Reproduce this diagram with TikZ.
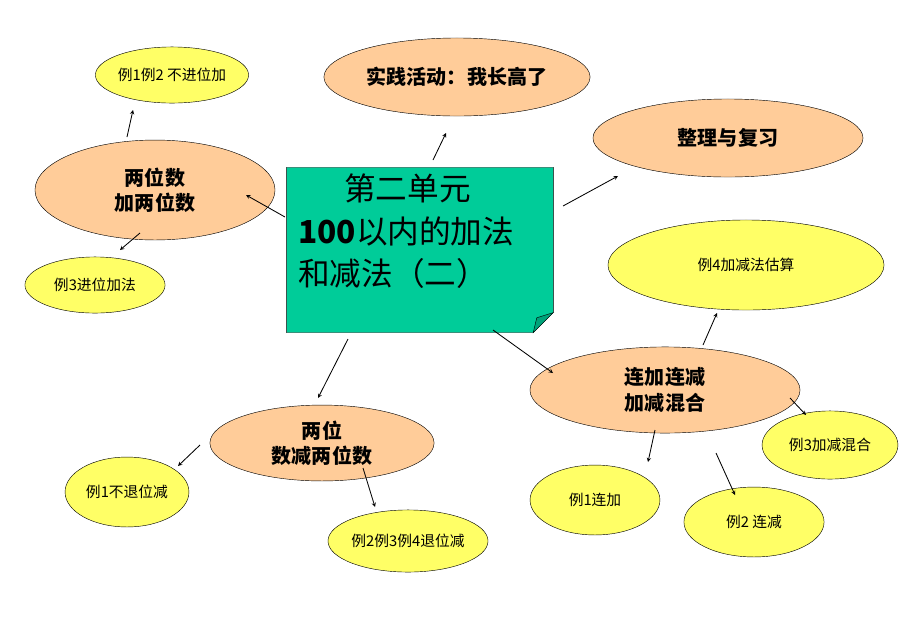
\documentclass[tikz,border=0pt]{standalone}
\usepackage{fontspec}
\setmainfont{Noto Sans CJK SC}
\usetikzlibrary{shapes.geometric,arrows}
\definecolor{peach}{RGB}{255,204,153}
\definecolor{lemon}{RGB}{255,255,102}
\definecolor{sea}{RGB}{0,204,153}
\tikzstyle{topic} = [ellipse, draw=black, fill=peach, inner sep=0pt, align=center, font=\fontsize{19}{24}\selectfont\bfseries]
\tikzstyle{example} = [ellipse, draw=black, fill=lemon, inner sep=0pt, align=center, font=\fontsize{14}{17}\selectfont]
\tikzstyle{arrow} = [thick,->,>=stealth]

\begin{document}
\begin{tikzpicture}[x=0.03333cm,y=-0.03333cm]
	\useasboundingbox (0,0) rectangle (907,635);

	% centre
	\node (unit) [minimum width=8.87cm, minimum height=5.5cm, inner sep=0pt] at (420,250) {};
	\fill[sea, draw=black] (unit.north west) -- (unit.north east) -- ([yshift=0.67cm]unit.south east) -- ([xshift=-0.67cm]unit.south east) -- (unit.south west) -- cycle;
	\filldraw[fill=sea!80!black, draw=black] ([yshift=0.67cm]unit.south east) -- ([xshift=-0.55cm,yshift=0.5cm]unit.south east) -- ([xshift=-0.67cm]unit.south east) -- cycle;
	\node (unitText) [align=left, anchor=north west, inner sep=0pt, font=\fontsize{30}{40}\selectfont] at (298,174) {\hspace{1.45em}第二单元\\\textbf{100}以内的加法\\和减法（二）};

	% topics
	\node (practice) [topic, minimum width=8.87cm, minimum height=2.6cm] at (457,77) {实践活动：我长高了};
	\node (review) [topic, minimum width=9cm, minimum height=2.6cm] at (728,138) {整理与复习};
	\node (addTwo) [topic, minimum width=8cm, minimum height=3.33cm] at (155,190) {两位数\\加两位数};
	\node (subTwo) [topic, minimum width=7.47cm, minimum height=2.53cm] at (322,443) {两位\\数减两位数};
	\node (mixed) [topic, minimum width=9cm, minimum height=2.87cm] at (665,390) {连加连减\\加减混合};

	% examples
	\node (noCarry) [example, minimum width=4.67cm, minimum height=1.87cm] at (172,75) {例1例2 不进位加};
	\node (carry) [example, minimum width=4.67cm, minimum height=1.87cm] at (95,285) {例3进位加法};
	\node (estimate) [example, minimum width=9.2cm, minimum height=3cm] at (746,265) {例4加减法估算};
	\node (mixEx) [example, minimum width=4.53cm, minimum height=2.27cm] at (830,445) {例3加减混合};
	\node (addEx) [example, minimum width=4.33cm, minimum height=2.33cm] at (595,500) {例1连加};
	\node (subEx) [example, minimum width=4.67cm, minimum height=2.33cm] at (754,522) {例2 连减};
	\node (noBorrow) [example, minimum width=4.13cm, minimum height=2.33cm] at (127,492) {例1不退位减};
	\node (borrow) [example, minimum width=5.33cm, minimum height=2.07cm] at (408,541) {例2例3例4退位减};

	% arrow ends
	\coordinate (a1) at (433,160); \coordinate (b1) at (446,133);
	\coordinate (a2) at (563,206); \coordinate (b2) at (618,176);
	\coordinate (a3) at (285,217); \coordinate (b3) at (246,195);
	\coordinate (a4) at (127,137); \coordinate (b4) at (133,110);
	\coordinate (a5) at (140,233); \coordinate (b5) at (120,250);
	\coordinate (a6) at (348,339); \coordinate (b6) at (318,398);
	\coordinate (a7) at (200,445); \coordinate (b7) at (178,466);
	\coordinate (a8) at (363,468); \coordinate (b8) at (375,507);
	\coordinate (a9) at (493,330); \coordinate (b9) at (553,373);
	\coordinate (a10) at (703,345); \coordinate (b10) at (717,313);
	\coordinate (a11) at (790,398); \coordinate (b11) at (806,415);
	\coordinate (a12) at (655,430); \coordinate (b12) at (648,462);
	\coordinate (a13) at (716,453); \coordinate (b13) at (735,495);

	\foreach \i in {1,...,13}
		\draw [arrow] (a\i) -- (b\i);

\end{tikzpicture}
\end{document}
